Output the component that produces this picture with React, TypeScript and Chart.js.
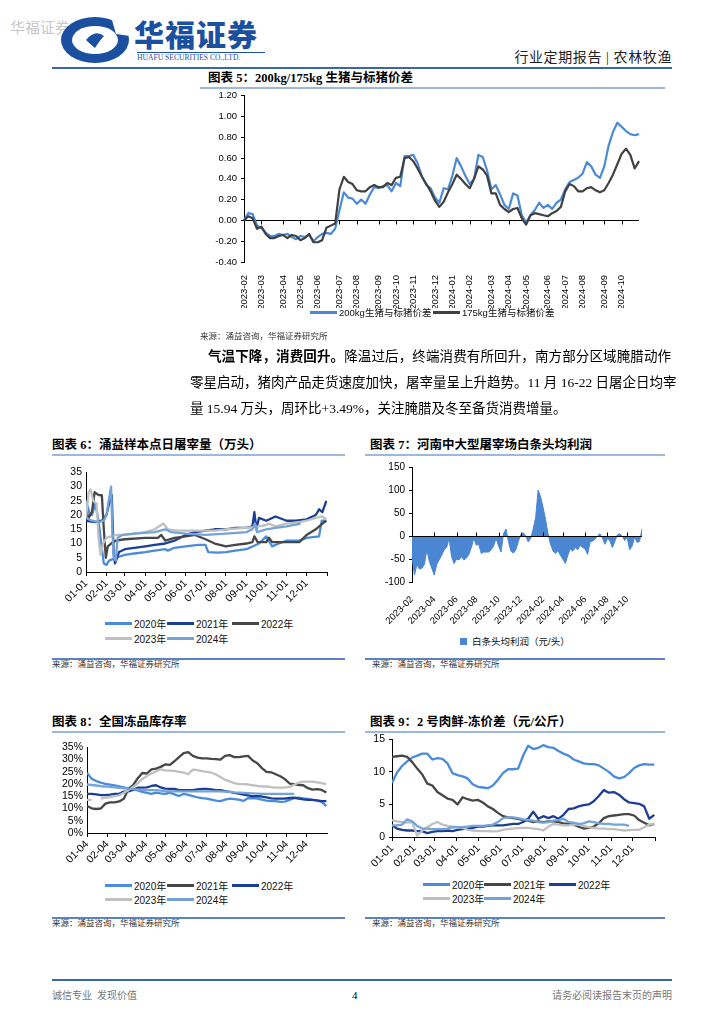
import React, { useEffect, useRef } from 'react';
import { Chart, registerables } from 'chart.js';
Chart.register(...registerables);

const SANS = '"Liberation Sans", "Noto Sans CJK SC", sans-serif';
const SERIF = '"Liberation Serif", "Noto Sans CJK SC", serif';
Chart.defaults.font.family = SANS;
Chart.defaults.color = '#000';

// ---------------- colours ----------------
const BLUE5 = '#4a8ad6';
const BLACK5 = '#404040';
const C2020 = '#4a8cdb';
const C2021N = '#1c3f94';
const C2DARK = '#474747';
const C2023 = '#c0c0c0';
const C2024 = '#74a3d8';
const AREA7 = '#4a86d2';

// ---------------- chart 5 data (weekly) ----------------
const c5Start = '2023-02-02';
const c5YTicks = [-0.4, -0.2, 0, 0.2, 0.4, 0.6, 0.8, 1.0, 1.2];
const c5MonthTicks = ['2023-02', '2023-03', '2023-04', '2023-05', '2023-06', '2023-07', '2023-08', '2023-09', '2023-10', '2023-11', '2023-12', '2024-01', '2024-02', '2024-03', '2024-04', '2024-05', '2024-06', '2024-07', '2024-08', '2024-09', '2024-10'];
const c5Blue = [0.00, 0.07, 0.06, -0.05, -0.07, -0.12, -0.15, -0.15, -0.13, -0.14,
  -0.13, -0.16, -0.18, -0.15, -0.16, -0.14, -0.20, -0.16, -0.13, -0.12, -0.13, -0.08, 0.10, 0.27, 0.22, 0.21, 0.16, 0.20, 0.16, 0.25, 0.32, 0.31,
  0.33, 0.34, 0.28, 0.36, 0.33, 0.62, 0.62, 0.63, 0.55, 0.42, 0.34, 0.31, 0.22, 0.17, 0.31, 0.30, 0.43, 0.60, 0.52, 0.43, 0.35, 0.40, 0.63, 0.61, 0.48, 0.30, 0.34, 0.25,
  0.15, 0.11, 0.26, 0.24, 0.05, -0.02, 0.05, 0.10, 0.17, 0.12, 0.15, 0.11, 0.17, 0.20, 0.30, 0.37, 0.39, 0.41, 0.45, 0.56, 0.52, 0.44, 0.41, 0.52, 0.72, 0.85, 0.94, 0.90, 0.86, 0.83,
  0.82, 0.83];
const c5Black = [0.00, 0.04, 0.02, -0.08, -0.06, -0.13, -0.17, -0.17, -0.15, -0.14,
  -0.17, -0.14, -0.15, -0.19, -0.17, -0.13, -0.21, -0.21, -0.19, -0.07, -0.05, -0.03, 0.30, 0.42, 0.37, 0.35, 0.29, 0.28, 0.28, 0.32, 0.34, 0.32,
  0.32, 0.36, 0.34, 0.41, 0.42, 0.60, 0.61, 0.57, 0.50, 0.42, 0.35, 0.28, 0.19, 0.13, 0.18, 0.27, 0.35, 0.44, 0.40, 0.35, 0.31, 0.40, 0.52, 0.49, 0.43, 0.26, 0.26, 0.15,
  0.11, 0.08, 0.11, 0.12, 0.02, -0.04, 0.05, 0.07, 0.06, 0.05, 0.04, 0.07, 0.09, 0.13, 0.28, 0.35, 0.33, 0.28, 0.28, 0.31, 0.32, 0.29, 0.27, 0.29, 0.36, 0.44, 0.54, 0.64, 0.69, 0.63,
  0.50, 0.57];

// ---------------- chart 6 data (daily samples) ----------------
const c6YTicks = [0, 5, 10, 15, 20, 25, 30, 35];
const c6Ticks = ['01-01', '02-01', '03-01', '04-01', '05-01', '06-01', '07-01', '08-01', '09-01', '10-01', '11-01', '12-01'];
const c6Dates2020 = ['01-01', '01-06', '01-10', '01-15', '01-20', '01-24', '01-28', '02-01', '02-05', '02-15', '03-01', '03-15', '04-01', '04-15', '05-01', '05-05', '05-15', '06-01', '06-20', '07-01', '07-05', '07-20', '08-01', '08-15', '09-01', '09-20', '10-01', '10-10', '10-20', '11-01', '11-20', '12-01', '12-20', '12-24', '12-31'];
const c6Vals2020 = [25, 21, 20, 24, 18, 10, 3, 2.5, 4, 5, 6, 6.5, 7, 7.5, 8, 7.5, 8.5, 9, 9.5, 9.5, 7, 6.8, 7, 7.5, 8, 10, 12.5, 9, 10, 11, 11, 12, 12.5, 18, 18];
const c6Dates2021 = ['01-01', '01-15', '01-25', '02-01', '02-06', '02-09', '02-12', '02-14', '02-20', '03-01', '04-01', '04-15', '05-01', '05-15', '06-01', '06-15', '07-01', '07-15', '08-01', '08-15', '09-01', '09-10', '09-13', '09-16', '09-20', '10-01', '10-15', '11-01', '11-15', '12-01', '12-15', '12-20', '12-25', '12-31'];
const c6Vals2021 = [18, 17.5, 18, 20, 25, 27, 6, 3, 7, 8, 9, 9.5, 10, 11, 13, 14, 14.5, 15, 15, 15.5, 15.5, 16, 21, 15, 19, 18, 19.5, 18, 18, 18.5, 20, 22, 21, 25];
const c6Dates2022 = ['01-01', '01-05', '01-10', '01-14', '01-20', '01-25', '01-28', '01-31', '02-03', '02-08', '02-15', '03-01', '04-01', '04-20', '04-25', '05-01', '05-15', '06-01', '06-15', '07-01', '07-15', '08-01', '08-15', '09-01', '09-10', '09-13', '09-18', '10-01', '10-05', '10-10', '11-01', '11-20', '12-01', '12-15', '12-25', '12-31'];
const c6Vals2022 = [22, 19, 21, 28, 27, 27, 15, 5, 9, 10, 11, 11.5, 12, 12, 13, 11, 12, 12.5, 13, 11.5, 10, 9, 9.5, 10, 10.5, 12.5, 10.5, 10.5, 12, 10.5, 10.5, 10.5, 13, 15, 17, 18];
const c6Dates2023 = ['01-01', '01-05', '01-08', '01-12', '01-17', '01-20', '01-23', '01-27', '02-01', '02-15', '03-01', '04-01', '04-15', '04-28', '05-05', '05-20', '06-15', '07-15', '08-01', '09-01', '09-20', '10-01', '10-05', '10-15', '11-01', '11-20', '12-01', '12-15', '12-25', '12-31'];
const c6Vals2023 = [19, 28, 29, 25, 24, 12, 6, 10, 12, 13, 13, 14, 15, 17, 15, 14.5, 14.5, 14.5, 15, 15.5, 16, 16.5, 17, 16, 17, 17.5, 18, 19, 19.5, 18.5];
const c6Dates2024 = ['01-01', '01-10', '01-20', '01-28', '02-01', '02-05', '02-08', '02-10', '02-12', '02-15', '02-18', '02-25', '03-15', '04-15', '05-01', '05-10', '06-01', '07-01', '08-01', '09-01', '09-10', '09-14', '09-17', '09-25', '10-01', '10-15', '11-01', '11-22'];
const c6Vals2024 = [19, 18, 17.5, 18, 20, 26, 30, 14, 5, 4, 12, 13, 13.5, 14, 15, 14, 13.5, 13, 13.5, 14, 15, 17, 14, 14.5, 15, 15.5, 16, 17];

// ---------------- chart 7 data (weekly) ----------------
const c7Start = '2023-02-01';
const c7YTicks = [-100, -50, 0, 50, 100, 150];
const c7Ticks = ['2023-02', '2023-04', '2023-06', '2023-08', '2023-10', '2023-12', '2024-02', '2024-04', '2024-06', '2024-08', '2024-10'];
const c7Profit = [-45, -85, -62, -72, -70, -62, -30, -55, -70, -85,
  -62, -52, -42, -30, -25, -5, -45, -60, -50, -52,
  -45, -52, -48, -40, -25, -5, -20, -18, -38, -35,
  -35, -35, -30, -22, -5, -22, -35, 5, 15, -12,
  -33, -37, -30, -12, 3, 7, 0, -13, -5, 15,
  40, 100, 85, 62, 36, 5, -18, -32, -38, -32,
  -42, -50, -60, -42, -28, -33, -25, -30, -20, -25,
  -28, -40, -13, -11, -7, 0, 5, -5, -18, -6,
  -10, -25, -12, 2, 5, 0, -10, -3, -30, -22,
  -2, -14, -12, 15];

// ---------------- chart 8 data (weekly from 01-04, %) ----------------
const c8Origin = '01-04';
const c8YTicks = [0, 5, 10, 15, 20, 25, 30, 35];
const c8Ticks = ['01-04', '02-04', '03-04', '04-04', '05-04', '06-04', '07-04', '08-04', '09-04', '10-04', '11-04', '12-04'];
const c8V2020 = [24.5, 22.2, 21.2, 20.6, 20.1, 19.8, 19.4, 19.0, 18.6, 18.1, 17.8, 17.4, 16.8, 16.4, 16.0, 16.5, 16.2, 16.0, 16.5, 15.8, 15.1, 16.0, 15.6, 15.1, 14.6, 14.2, 14.0, 13.6, 13.2, 13.0, 13.6, 14.0, 13.8, 13.6, 13.1, 14.3, 14.2, 14.0, 13.6, 13.2, 13.0, 13.0, 12.7, 12.8, 13.5, 14.2, 14.4, 14.1, 13.9, 13.5, 13.2, 12.7, 11.0];
const c8V2021 = [11.0, 10.1, 9.8, 10.0, 12.0, 12.5, 12.5, 12.9, 14.0, 18.0, 19.5, 22.3, 24.5, 24.3, 26.0, 26.3, 27.0, 28.0, 27.8, 29.3, 31.0, 32.6, 33.0, 31.5, 30.8, 30.5, 30.5, 30.3, 30.2, 30.0, 31.5, 31.8, 31.0, 31.0, 31.3, 31.5, 29.6, 28.5, 26.5, 25.0, 24.8, 24.0, 23.2, 22.0, 20.2, 20.0, 19.6, 19.5, 18.3, 17.7, 17.9, 17.6, 16.5];
const c8V2022 = [16, 16, 15.8, 15.5, 15.5, 15.7, 16, 16, 16.9, 17, 17.6, 18.5, 18.5, 18.6, 19.2, 19.5, 18.6, 18.1, 18, 18, 17.5, 17.5, 17.5, 17.5, 17.8, 18, 18, 17.8, 17.5, 17.5, 17.1, 16.8, 16.4, 16.1, 15.7, 15.4, 15, 15, 14.9, 14.5, 14.1, 14, 14, 14, 14.3, 14.4, 14, 13.7, 13.5, 13.5, 13.3, 13, 13];
const c8V2023 = [13.5, 13.5, null, 14.0, 14.4, 14.7, 15.1, 15.4, 16.4, 17.5, 18.8, 20.2, 22.0, 23.3, 24.3, 25.1, 26.0, 25.6, 25.5, 25.4, 25.0, 24.7, 24.0, 25.9, 25.7, 25.3, 25.0, 24.7, 23.9, 22.9, 21.7, 21.1, 20.4, 20.0, 20.0, 19.8, 19.5, 19.2, 19.0, 19.0, 18.7, 18.5, 18.5, 18.5, 18.8, 19.7, 20.6, 21.0, 21.0, 21.0, 20.7, 20.4, 20.0];
const c8V2024 = [19.8, 19.6, 19.4, 19.1, 19.0, 18.8, 18.6, 18.4, 18.3, 18.0, 17.9, 17.7, 17.6, 17.5, 17.5, 17.5, 17.3, 17.1, 17.0, 17.0, 17.0, 17.0, 17.0, 17.0, 17.0, 17.0, 17.0, 17.0, 17.0, 17.0, 16.9, 16.8, 16.6, 16.5, 16.4, 16.3, 16.2, 16.1, 16.0, 16.0, 16.0, 16.0, 16.0, 16.0, 16.0, 16.0];

// ---------------- chart 9 data (weekly from 01-01, 元/公斤) ----------------
const c9Origin = '01-01';
const c9YTicks = [0, 5, 10, 15];
const c9Ticks = ['01-01', '02-01', '03-01', '04-01', '05-01', '06-01', '07-01', '08-01', '09-01', '10-01', '11-01', '12-01'];
const c9V2020 = [8.3, 9.9, 10.9, 11.6, 12.2, 12.5, 12.8, 12.8, 11.9, 12.1, 12.0, 11.3, 9.8, 9.5, 9.3, 9.0, 8.1, 7.7, 7.6, 7.5, 7.9, 8.8, 9.8, 10.4, 10.4, 10.5, 12.5, 14.0, 13.5, 13.7, 14.1, 13.8, 13.7, 13.2, 12.8, 12.5, 11.9, 11.6, 11.3, 11.2, 11.2, 11.0, 10.5, 10.0, 9.3, 9.0, 9.2, 9.8, 10.6, 11.0, 11.2, 11.1, 11.1];
const c9V2021 = [12.3, 12.4, 12.5, 12.3, 11.5, 10.5, 9.6, 8.2, 7.9, 6.9, 6.4, 5.9, 5.7, 5.0, 6.1, 5.8, 5.6, 5.7, 5.3, 4.7, 4.3, 3.7, 3.2, 3.0, 2.9, 2.8, 2.6, 2.5, 2.3, 2.4, 2.3, 2.4, 2.4, 2.3, 2.1, 2.0, 1.9, 1.6, 1.3, 1.4, 1.6, 2.1, 2.9, 3.2, 3.3, 3.4, 3.5, 3.5, 3.3, 2.6, 2.2, 1.8, 2.0];
const c9V2022 = [1.8, 1.3, 1.1, 1.0, 1.0, 0.9, 0.9, 0.6, 0.8, 0.9, 0.9, 1.0, 0.9, 1.1, 1.2, 1.3, 1.4, 1.6, 1.6, 1.7, 1.8, 1.8, 1.8, 1.9, 2.0, 2.0, 2.3, 2.8, 3.9, 2.8, 3.2, 2.9, 3.2, 2.8, 3.4, 4.3, 4.4, 4.7, 4.9, 5.0, 5.5, 6.3, 7.2, 6.8, 6.9, 6.5, 5.8, 5.3, 5.2, 5.1, 4.7, 2.8, 3.4];
const c9V2023 = [2.6, 2.4, 2.3, 2.2, 2.3, 0.2, 1.0, 1.5, 2.0, 2.3, 1.9, 1.7, 1.6, 1.5, 1.4, 1.1, 1.0, 0.95, 0.9, 0.9, 0.85, 0.9, 1.1, 1.2, 1.3, 1.35, 1.4, 1.4, 1.3, 1.2, 1.0, 1.6, 2.0, 1.9, 1.8, 1.8, 1.9, 1.9, 1.7, 1.5, 1.4, 1.3, 1.3, 1.2, 1.2, 1.1, 1.0, 1.05, 1.1, 1.1, 1.5, 1.9, 2.0];
const c9V2024 = [1.8, 1.8, 1.9, 2.7, 2.4, 1.7, 1.3, 1.3, 1.2, 1.2, 1.2, 1.3, 1.5, 1.5, 1.5, 1.6, 1.7, 1.7, 1.7, 1.8, 1.9, 2.3, 2.9, 3.0, 3.0, 2.9, 2.7, 2.6, 2.5, 2.3, 2.2, 2.3, 2.5, 2.6, 2.8, 2.3, 2.2, 2.0, 2.1, 2.4, 2.3, 2.1, 2.0, 2.0, 1.9, 1.9, 1.9, 1.7];

const yearLabels = ['2020年', '2021年', '2022年', '2023年', '2024年'];

// ---------------- helpers ----------------
const MONTH_DAYS = [31, 28, 31, 30, 31, 30, 31, 31, 30, 31, 30, 31];
function doy(md: string) {
  const [m, d] = md.split('-').map(Number);
  let s = 0;
  for (let i = 0; i < m - 1; i++) s += MONTH_DAYS[i];
  return s + d - 1;
}
function weekly(start: string, n: number) {
  const t0 = Date.parse(start + 'T00:00:00Z');
  return Array.from({ length: n }, (_, i) => new Date(t0 + i * 7 * 864e5).toISOString().slice(0, 10));
}
const byDates = (dates: string[], vals: number[]) => dates.map((d, i) => ({ x: doy(d), y: vals[i] }));
const byWeeks = (vals: (number | null)[]) => vals.map((v, i) => ({ x: i * 7, y: v }));

const lineDs = (label: string, data: any, color: string, width: number, order: number) => ({
  label, data, borderColor: color, backgroundColor: color, borderWidth: width, pointRadius: 0,
  tension: 0, order, spanGaps: false, borderJoinStyle: 'round' as const,
});

function zeroAxis(tickDir: number, onTop: boolean) {
  const draw = (chart: any) => {
    const { ctx, chartArea, scales } = chart;
    const y0 = Math.round(scales.y.getPixelForValue(0)) + 0.5;
    ctx.save();
    ctx.strokeStyle = '#000';
    ctx.lineWidth = 1;
    ctx.beginPath();
    ctx.moveTo(chartArea.left, y0);
    ctx.lineTo(chartArea.right, y0);
    scales.x.ticks.forEach((_: any, i: number) => {
      const px = Math.round(scales.x.getPixelForTick(i)) + 0.5;
      ctx.moveTo(px, y0);
      ctx.lineTo(px, y0 + tickDir * 4);
    });
    ctx.stroke();
    ctx.restore();
  };
  return onTop ? { id: 'zeroAxis', afterDatasetsDraw: draw } : { id: 'zeroAxis', beforeDatasetsDraw: draw };
}

function monthAxis(tickLabels: string[], origin: string, endTick: boolean, height: number) {
  const pos = tickLabels.map((l) => doy(l) - doy(origin));
  return {
    type: 'linear', min: 0, max: 365,
    grid: { display: true, drawOnChartArea: false, drawTicks: true, tickLength: 4, color: '#000' },
    border: { display: true, color: '#000' },
    afterBuildTicks: (s: any) => { s.ticks = (endTick ? [...pos, 365] : pos).map((v) => ({ value: v })); },
    ticks: {
      autoSkip: false, minRotation: 45, maxRotation: 45, padding: 1, font: { size: 10.5 }, color: '#000',
      callback: (v: number) => { const i = pos.indexOf(v); return i >= 0 ? tickLabels[i] : ''; },
    },
    afterFit: (s: any) => { s.height = height; },
  };
}

function valueAxis(tickVals: number[], width: number, fmt: (v: number) => string, tickLen: number, size = 10.5) {
  return {
    type: 'linear',
    min: tickVals[0], max: tickVals[tickVals.length - 1],
    afterBuildTicks: (s: any) => { s.ticks = tickVals.map((v) => ({ value: v })); },
    ticks: { autoSkip: false, callback: (v: any) => fmt(Number(v)), font: { size }, color: '#000', padding: 4 },
    grid: { display: true, drawOnChartArea: false, drawTicks: tickLen > 0, tickLength: tickLen, color: '#000' },
    border: { display: true, color: '#000' },
    afterFit: (s: any) => { s.width = width; },
  };
}

const baseOpts = (padTop: number, padRight: number) => ({
  animation: false, responsive: true, maintainAspectRatio: false,
  layout: { padding: { top: padTop, right: padRight, left: 0, bottom: 0 } },
  plugins: { legend: { display: false }, tooltip: { enabled: false } },
});

// ---------------- chart configs ----------------
function makeC5() {
  const labels = weekly(c5Start, c5Blue.length);
  return {
    type: 'line',
    data: {
      labels,
      datasets: [
        lineDs('200kg生猪与标猪价差', c5Blue, BLUE5, 2.2, 1),
        lineDs('175kg生猪与标猪价差', c5Black, BLACK5, 2.2, 0),
      ],
    },
    options: {
      ...baseOpts(9, 11),
      scales: {
        x: {
          type: 'category', offset: false,
          grid: { display: false }, border: { display: false },
          afterBuildTicks: (s: any) => {
            s.ticks = s.ticks.filter((t: any) => {
              const l = labels[t.value];
              return Number(l.slice(8)) <= 7 && c5MonthTicks.includes(l.slice(0, 7));
            });
          },
          ticks: { autoSkip: false, minRotation: 90, maxRotation: 90, padding: 5, font: { size: 9.5 }, color: '#000', callback: (v: any) => labels[v].slice(0, 7) },
          afterFit: (s: any) => { s.height = 46; },
        },
        y: valueAxis(c5YTicks, 44, (v) => v.toFixed(2), 3, 9.5),
      },
    },
    plugins: [zeroAxis(1, false)],
  };
}

function makeC6() {
  return {
    type: 'line',
    data: {
      datasets: [
        lineDs('2020年', byDates(c6Dates2020, c6Vals2020), C2020, 2.3, 5),
        lineDs('2021年', byDates(c6Dates2021, c6Vals2021), C2021N, 2.3, 4),
        lineDs('2022年', byDates(c6Dates2022, c6Vals2022), C2DARK, 2.3, 3),
        lineDs('2023年', byDates(c6Dates2023, c6Vals2023), C2023, 2.3, 2),
        lineDs('2024年', byDates(c6Dates2024, c6Vals2024), C2024, 2.3, 1),
      ],
    },
    options: {
      ...baseOpts(9, 10),
      scales: {
        x: monthAxis(c6Ticks, '01-01', true, 34),
        y: valueAxis(c6YTicks, 34, (v) => String(v), 0),
      },
    },
  };
}

function makeC7() {
  const labels = weekly(c7Start, c7Profit.length);
  return {
    type: 'line',
    data: {
      labels,
      datasets: [{
        label: '白条头均利润（元/头）', data: c7Profit, borderColor: AREA7, backgroundColor: AREA7,
        borderWidth: 1, pointRadius: 0, tension: 0, fill: 'origin',
      }],
    },
    options: {
      ...baseOpts(17, 10),
      scales: {
        x: {
          type: 'category', offset: false,
          grid: { display: false }, border: { display: false },
          afterBuildTicks: (s: any) => {
            s.ticks = s.ticks.filter((t: any) => {
              const l = labels[t.value];
              return Number(l.slice(8)) <= 7 && c7Ticks.includes(l.slice(0, 7));
            });
          },
          ticks: { autoSkip: false, minRotation: 45, maxRotation: 45, padding: 4, font: { size: 9.5 }, color: '#000', callback: (v: any) => labels[v].slice(0, 7) },
          afterFit: (s: any) => { s.height = 48; },
        },
        y: valueAxis(c7YTicks, 47, (v) => String(v), 3, 10),
      },
    },
    plugins: [zeroAxis(-1, true)],
  };
}

function makeC8() {
  return {
    type: 'line',
    data: {
      datasets: [
        lineDs('2020年', byWeeks(c8V2020), C2020, 2.3, 5),
        lineDs('2021年', byWeeks(c8V2021), C2DARK, 2.3, 4),
        lineDs('2022年', byWeeks(c8V2022), C2021N, 2.3, 3),
        lineDs('2023年', byWeeks(c8V2023), C2023, 2.3, 2),
        lineDs('2024年', byWeeks(c8V2024), C2024, 2.3, 1),
      ],
    },
    options: {
      ...baseOpts(8, 10),
      scales: {
        x: monthAxis(c8Ticks, c8Origin, false, 34),
        y: valueAxis(c8YTicks, 35, (v) => v + '%', 0),
      },
    },
  };
}

function makeC9() {
  return {
    type: 'line',
    data: {
      datasets: [
        lineDs('2020年', byWeeks(c9V2020), C2020, 2.3, 5),
        lineDs('2021年', byWeeks(c9V2021), C2DARK, 2.3, 4),
        lineDs('2022年', byWeeks(c9V2022), C2021N, 2.3, 3),
        lineDs('2023年', byWeeks(c9V2023), C2023, 2.3, 2),
        lineDs('2024年', byWeeks(c9V2024), C2024, 2.3, 1),
      ],
    },
    options: {
      ...baseOpts(8, 10),
      scales: {
        x: monthAxis(c9Ticks, c9Origin, true, 34),
        y: valueAxis(c9YTicks, 27, (v) => String(v), 3),
      },
    },
  };
}

// ---------------- components ----------------
function ChartBox({ left, top, width, height, make }: { left: number; top: number; width: number; height: number; make: () => any }) {
  const ref = useRef<HTMLCanvasElement | null>(null);
  useEffect(() => {
    if (!ref.current) return;
    const chart = new Chart(ref.current, make());
    return () => chart.destroy();
  }, []);
  return (
    <div style={{ position: 'absolute', left, top, width, height }}>
      <canvas ref={ref} />
    </div>
  );
}

const abs = (left: number, top: number, extra: React.CSSProperties = {}): React.CSSProperties => ({ position: 'absolute', left, top, whiteSpace: 'nowrap', ...extra });

function LegendLine({ x, y, color, text, size = 10 }: { x: number; y: number; color: string; text: string; size?: number }) {
  return (
    <div style={abs(x, y - 7, { height: 14, display: 'flex', alignItems: 'center', fontFamily: SANS, fontSize: size, color: '#111' })}>
      <span style={{ display: 'inline-block', width: 27, height: 3, background: color, marginRight: 2 }} />
      <span>{text}</span>
    </div>
  );
}

function YearLegend({ xs, y1, y2, colors }: { xs: number[]; y1: number; y2: number; colors: string[] }) {
  return (
    <>
      <LegendLine x={xs[0]} y={y1} color={colors[0]} text={yearLabels[0]} />
      <LegendLine x={xs[1]} y={y1} color={colors[1]} text={yearLabels[1]} />
      <LegendLine x={xs[2]} y={y1} color={colors[2]} text={yearLabels[2]} />
      <LegendLine x={xs[0]} y={y2} color={colors[3]} text={yearLabels[3]} />
      <LegendLine x={xs[1]} y={y2} color={colors[4]} text={yearLabels[4]} />
    </>
  );
}

function Title({ x, y, lineX1, lineX2, text }: { x: number; y: number; lineX1: number; lineX2: number; text: string }) {
  return (
    <>
      <div style={abs(x, y - 8, { fontFamily: SERIF, fontWeight: 700, fontSize: 12.5, lineHeight: '16px', color: '#000' })}>{text}</div>
      <div style={{ position: 'absolute', left: lineX1, top: y + 9, width: lineX2 - lineX1, height: 2, background: '#9db8de' }} />
    </>
  );
}

function Source({ x, y, lineX1, lineX2, withLine }: { x: number; y: number; lineX1: number; lineX2: number; withLine: boolean }) {
  return (
    <>
      {withLine && <div style={{ position: 'absolute', left: lineX1, top: y - 6, width: lineX2 - lineX1, height: 1.5, background: '#5d82c4' }} />}
      <div style={abs(x, y - 6, { fontFamily: SERIF, fontSize: 8.5, lineHeight: '12px', color: '#333' })}>来源：涌益咨询，华福证券研究所</div>
    </>
  );
}

function Logo() {
  return (
    <svg style={{ position: 'absolute', left: 60, top: 16 }} width={70} height={48} viewBox="0 0 70 48">
      <ellipse cx={35} cy={24} rx={34} ry={23} fill="#1b4f9f" />
      <ellipse cx={35} cy={24} rx={23} ry={14} fill="#fff" />
      <path d="M52 4 L70 12 L70 20 L56 18 Z" fill="#fff" />
      <path d="M26 24 Q35 13 44 20 Q40 24 35 32 Q30 28 26 24 Z" fill="#1b4f9f" />
    </svg>
  );
}

export default function App() {
  const t8 = 731;
  return (
    <div style={{ position: 'absolute', left: 0, top: 0, width: 724, height: 1024, background: '#fff', overflow: 'hidden', fontFamily: SANS }}>
      {/* header */}
      <div style={abs(10, 16, { fontFamily: SERIF, fontSize: 15, color: '#c8c8c8' })}>华福证券</div>
      <Logo />
      <div style={abs(134, 14, { fontFamily: '"Noto Sans CJK SC"', fontWeight: 900, fontSize: 30, lineHeight: '38px', color: '#1b4f9f', letterSpacing: 1 })}>华福证券</div>
      <div style={{ position: 'absolute', left: 137, top: 52, width: 128, height: 1, background: '#1b4f9f' }} />
      <div style={abs(137, 53, { fontFamily: SERIF, fontSize: 7.6, lineHeight: '10px', color: '#1b4f9f' })}>HUAFU SECURITIES CO.,LTD.</div>
      <div style={abs(490, 49, { width: 182, textAlign: 'right', fontFamily: SERIF, fontSize: 14, lineHeight: '18px', color: '#222', letterSpacing: 0.6 })}>行业定期报告 | 农林牧渔</div>
      <div style={{ position: 'absolute', left: 52, top: 67, width: 620, height: 2, background: '#3b65ad' }} />

      {/* chart 5 */}
      <Title x={208} y={78} lineX1={200} lineX2={665} text="图表 5：200kg/175kg 生猪与标猪价差" />
      <ChartBox left={200} top={86} width={450} height={222} make={makeC5} />
      <LegendLine x={310} y={312} color={BLUE5} text="200kg生猪与标猪价差" size={9.5} />
      <LegendLine x={433} y={312} color={BLACK5} text="175kg生猪与标猪价差" size={9.5} />
      <Source x={200} y={336} lineX1={200} lineX2={665} withLine={false} />

      {/* paragraph */}
      <div style={abs(208, 348, { width: 463, fontFamily: SERIF, fontSize: 13.5, lineHeight: '18px', textAlign: 'justify', textAlignLast: 'justify', color: '#000' })}>
        <b>气温下降，消费回升。</b>降温过后，终端消费有所回升，南方部分区域腌腊动作
      </div>
      <div style={abs(190, 374, { width: 481, fontFamily: SERIF, fontSize: 13.5, lineHeight: '18px', textAlign: 'justify', textAlignLast: 'justify', color: '#000' })}>
        零星启动，猪肉产品走货速度加快，屠宰量呈上升趋势。11 月 16-22 日屠企日均宰
      </div>
      <div style={abs(190, 400, { fontFamily: SERIF, fontSize: 13.5, lineHeight: '18px', color: '#000' })}>
        量 15.94 万头，周环比+3.49%，关注腌腊及冬至备货消费增量。
      </div>

      {/* chart 6 */}
      <Title x={52} y={445} lineX1={52} lineX2={345} text="图表 6：涌益样本点日屠宰量（万头）" />
      <ChartBox left={52} top={462} width={285} height={144} make={makeC6} />
      <YearLegend xs={[105, 167, 232]} y1={623} y2={638} colors={[C2020, C2021N, C2DARK, C2023, C2024]} />
      <Source x={52} y={664} lineX1={52} lineX2={345} withLine={true} />

      {/* chart 7 */}
      <Title x={370} y={445} lineX1={365} lineX2={665} text="图表 7：河南中大型屠宰场白条头均利润" />
      <ChartBox left={365} top={450} width={287} height={180} make={makeC7} />
      <div style={abs(460, 634, { height: 14, display: 'flex', alignItems: 'center', fontFamily: SANS, fontSize: 9.5, color: '#111' })}>
        <span style={{ display: 'inline-block', width: 7, height: 7, background: AREA7, marginRight: 5 }} />
        <span>白条头均利润（元/头）</span>
      </div>
      <Source x={372} y={664} lineX1={365} lineX2={665} withLine={true} />

      {/* chart 8 */}
      <Title x={52} y={t8 - 9} lineX1={52} lineX2={345} text="图表 8：全国冻品库存率" />
      <ChartBox left={52} top={737} width={285} height={130} make={makeC8} />
      <YearLegend xs={[105, 167, 232]} y1={885} y2={899} colors={[C2020, C2DARK, C2021N, C2023, C2024]} />
      <Source x={52} y={923} lineX1={52} lineX2={345} withLine={true} />

      {/* chart 9 */}
      <Title x={370} y={t8 - 9} lineX1={365} lineX2={665} text="图表 9：2 号肉鲜-冻价差（元/公斤）" />
      <ChartBox left={365} top={729} width={300} height={142} make={makeC9} />
      <YearLegend xs={[423, 484, 549]} y1={884} y2={898} colors={[C2020, C2DARK, C2021N, C2023, C2024]} />
      <Source x={372} y={923} lineX1={365} lineX2={665} withLine={true} />

      {/* footer */}
      <div style={{ position: 'absolute', left: 52, top: 979, width: 620, height: 2, background: '#3b65ad' }} />
      <div style={abs(52, 989, { fontFamily: SERIF, fontSize: 10, lineHeight: '14px', color: '#777' })}>诚信专业&nbsp;&nbsp;发现价值</div>
      <div style={abs(352, 988, { fontFamily: SERIF, fontSize: 11, lineHeight: '14px', color: '#000' })}>4</div>
      <div style={abs(500, 989, { width: 172, textAlign: 'right', fontFamily: SERIF, fontSize: 10, lineHeight: '14px', color: '#777' })}>请务必阅读报告末页的声明</div>
    </div>
  );
}
